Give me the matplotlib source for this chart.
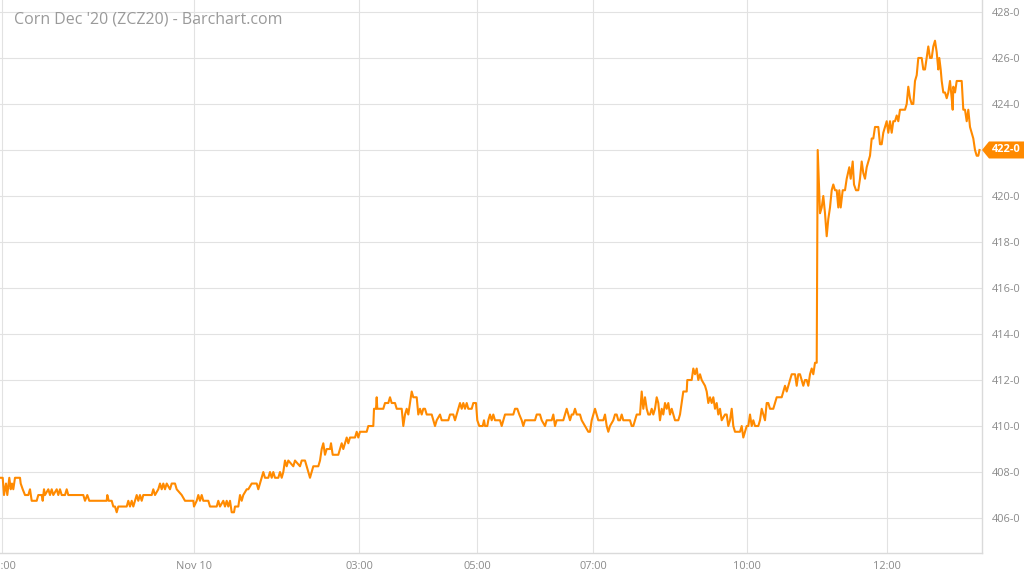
import matplotlib
matplotlib.use('Agg')
import matplotlib.pyplot as plt
from matplotlib.patches import Polygon
from matplotlib.transforms import blended_transform_factory

plt.rcParams['font.family'] = ['Open Sans', 'DejaVu Sans']

TITLE = "Corn Dec '20 (ZCZ20) - Barchart.com"
ORANGE = '#ff8a00'

# intraday bar number vs last price (cents/bu)
bars = [
    0, 2.7, 4, 6, 7.3, 9.3, 10.7, 12, 13.3, 15,
    20, 20.7, 22.7, 25, 28.3, 30, 31.7, 36.7, 38.3, 41.7,
    42.7, 44, 45, 48.3, 50, 51.7, 53.3, 56.7, 58.3, 60,
    61.7, 65, 66.7, 68.3, 83.3, 85, 87.3, 89.3, 106.7, 107.3,
    108.7, 111.7, 113.3, 115, 116.7, 118.3, 126.7, 128.3, 130, 131.7,
    133.3, 135, 136.7, 138.3, 140, 141.7, 143.3, 151.7, 153.3, 155,
    158.3, 160, 161.7, 163.3, 165, 166.7, 170, 171.7, 175, 176.7,
    181.7, 185, 193.3, 194, 196.7, 198.3, 200, 201.7, 203.3, 208.3,
    210, 216.7, 218.3, 220, 223.3, 225, 226.7, 228.3, 230, 231.7,
    234, 235, 238.3, 240, 241.7, 243.3, 246.7,
    248.3, 251.7, 256.7, 258.3, 260, 261.7, 263.3, 265, 268.3, 270,
    271.7, 273.3, 275, 278.3, 280, 281.7, 283.3, 285, 286.7, 288.3,
    293.3, 295, 300, 301.7, 305, 306.7, 308.3, 310, 311.7, 313.3,
    318.3, 320, 321.7, 323.3, 325, 326.7, 330, 331, 332.7, 338.3,
    340, 341.7, 343.3, 345, 346.7, 348.3, 350, 355, 356.7, 358.3,
    360, 366.7, 368.3, 373.3, 374, 376, 376.7, 377.3, 383.3, 385,
    388.3, 390, 391.7, 395, 396.7, 400,
    401.7, 403.3, 405, 406.7, 408.3, 410, 411.7, 413.3, 416.7, 418.3,
    420, 421.7, 423.3, 425, 426.7, 431.7, 433.3, 435, 436.7, 440,
    441.7, 448.3, 450, 453.3, 455, 456.7, 458.3, 460, 461.7, 463.3,
    465, 466.7, 468.3, 471.7, 473.3, 476, 477.3, 479.3, 482.7, 484,
    485, 487.3, 488.3, 490, 491.7, 493.3, 495, 500, 501.7, 503.3,
    505, 513.3, 515, 517.3, 519.3, 521.7, 523.3, 525, 535, 536.7,
    540, 541.7, 545, 546.7, 551.7, 553.3, 555, 556.7, 563.3, 565,
    566.7, 568.3, 570, 571.7, 573.3, 575, 576.7, 580, 581.7, 585,
    588.3, 590, 591.7, 593.3, 595, 596.7,
    598.3, 603.3, 605, 606.7, 608.3, 610, 613.3, 615, 616.7, 618.3,
    620, 621.7, 623.3, 630, 631.7, 633.3, 635, 636.7, 640, 641.7,
    643.3, 645, 646.7, 648.3, 650, 651.7, 653.3, 655, 656.7, 658.3,
    660, 661.7, 663.3, 665, 666.7, 668.3, 670, 671.7, 673.3, 675,
    678.3, 680, 681.7, 683.3, 686.7, 687.3, 691.7, 693.3, 695, 696.7,
    698.3, 700, 701.7, 705, 706.7, 708.3, 710, 711.7, 713.3, 715,
    716.7, 718.3, 720, 721.7, 725, 726.7, 728.3, 730, 731.7, 733.3,
    735, 740, 741.7, 743.3, 745, 746.7, 748.3, 750, 751.7, 753.3,
    755, 758.3, 760, 761.7, 763.3, 765, 766.7, 768.3, 770, 773.3,
    775, 776.7, 781.7, 783.3, 785, 786.7, 788.3, 790, 791.7, 795,
    796.7, 798.3, 800, 801.7, 803.3, 805, 806.7, 808.3, 810, 811.7,
    813.3, 815, 816.7,
    817.7, 819.3, 820, 821.7, 823.3, 825, 826.7, 828.3, 830, 831.7,
    833.3, 835, 836.7, 838.3, 839.3, 840.7, 842.7, 845, 846.7, 849.3,
    850.7, 852.7, 854, 856, 858.3, 860, 861.7, 863.3, 865, 866.7,
    868.3, 870, 871.7, 873.3, 875, 878.3, 880, 881.7, 883.3, 885,
    886.7, 888.3, 890, 891.7, 893.3, 895, 896.7, 898.3, 900, 901.7,
    905, 906.7, 908.3, 910, 911.7, 913.3, 915, 916.7, 918.3, 921.7,
    923.3, 925, 926.7, 928.3, 930, 931.7, 933.3, 935, 936.7, 938.3,
    939.3, 940.7, 941.7, 943.3, 945, 946.7, 948.3, 950, 951.7, 952.7,
    953.3, 955, 956.7, 958.3, 961.7, 963.3, 965, 966.7, 968.3, 970,
    971.7, 973.3, 975, 976.7, 978.3, 979.5,
]
prices = [
    407.75, 407.75, 407.0, 407.5, 407.0, 407.75, 407.25, 407.5, 407.25, 407.75,
    407.75, 407.5, 407.25, 407.0, 407.0, 407.25, 406.75, 406.75, 407.0, 407.0,
    406.75, 407.25, 407.0, 407.25, 407.0, 407.25, 407.0, 407.25, 407.0, 407.25,
    407.0, 407.0, 407.25, 407.0, 407.0, 406.75, 407.0, 406.75, 406.75, 407.0,
    406.75, 406.75, 406.5, 406.5, 406.25, 406.5, 406.5, 406.75, 406.5, 406.75,
    406.5, 406.75, 407.0, 406.75, 407.0, 406.75, 407.0, 407.0, 407.25, 407.0,
    407.25, 407.5, 407.25, 407.5, 407.25, 407.5, 407.25, 407.5, 407.5, 407.25,
    407.0, 406.75, 406.75, 406.5, 406.75, 407.0, 406.75, 407.0, 406.75, 406.75,
    406.5, 406.5, 406.75, 406.5, 406.75, 406.5, 406.75, 406.5, 406.75, 406.25,
    406.25, 406.5, 406.5, 407.0, 406.75, 407.0, 407.25,
    407.25, 407.5, 407.5, 407.25, 407.5, 407.75, 408.0, 407.75, 407.75, 408.0,
    407.75, 408.0, 407.75, 407.75, 408.0, 407.75, 408.0, 408.5, 408.25, 408.5,
    408.25, 408.5, 408.25, 408.5, 408.5, 408.25, 408.0, 407.75, 408.0, 408.25,
    408.25, 408.5, 409.0, 409.25, 408.75, 409.0, 409.0, 409.25, 408.75, 408.75,
    409.0, 409.25, 409.0, 409.25, 409.5, 409.25, 409.5, 409.5, 409.75, 409.5,
    409.75, 409.75, 410.0, 410.0, 410.75, 410.75, 411.25, 410.75, 410.75, 411.0,
    411.0, 411.25, 411.0, 411.0, 410.75, 410.75,
    410.75, 410.0, 410.5, 410.75, 410.5, 411.0, 411.5, 411.25, 411.25, 410.5,
    410.75, 410.5, 410.75, 410.75, 410.5, 410.5, 410.25, 410.0, 410.25, 410.5,
    410.25, 410.25, 410.5, 410.5, 410.25, 410.5, 410.75, 411.0, 410.75, 411.0,
    410.75, 411.0, 410.75, 410.75, 411.0, 411.0, 410.25, 410.0, 410.0, 410.25,
    410.0, 410.0, 410.25, 410.5, 410.25, 410.5, 410.25, 410.25, 410.0, 410.25,
    410.5, 410.5, 410.75, 410.75, 410.5, 410.25, 410.0, 410.25, 410.25, 410.5,
    410.5, 410.25, 410.0, 410.25, 410.25, 410.5, 410.0, 410.25, 410.25, 410.5,
    410.75, 410.5, 410.25, 410.5, 410.5, 410.75, 410.5, 410.5, 410.25, 410.0,
    409.75, 409.75, 410.25, 410.5, 410.75, 410.5,
    410.25, 410.25, 410.5, 410.0, 409.75, 410.0, 410.25, 410.5, 410.5, 410.25,
    410.25, 410.5, 410.25, 410.25, 410.0, 410.0, 410.25, 410.5, 410.5, 411.5,
    410.75, 411.25, 410.75, 410.5, 410.5, 410.75, 410.5, 410.75, 411.25, 411.0,
    410.25, 410.75, 410.5, 411.0, 410.75, 411.0, 410.5, 410.75, 410.5, 410.25,
    410.25, 410.5, 411.0, 411.5, 411.5, 412.0, 412.0, 412.5, 412.25, 412.5,
    412.0, 412.25, 412.0, 411.75, 411.5, 411.0, 411.25, 411.0, 411.25, 410.75,
    411.0, 410.5, 410.75, 410.25, 410.5, 410.5, 410.0, 410.25, 410.75, 410.0,
    409.75, 409.75, 410.0, 409.5, 409.75, 410.0, 410.0, 410.5, 410.0, 410.25,
    410.0, 410.0, 410.25, 410.75, 410.5, 410.25, 411.0, 411.0, 410.75, 410.75,
    411.0, 411.25, 411.25, 411.5, 411.75, 411.5, 411.75, 412.0, 412.25, 412.25,
    411.75, 412.25, 412.25, 412.0, 411.75, 412.0, 412.0, 411.75, 412.25, 412.5,
    412.25, 412.75, 412.75,
    422.0, 420.0, 419.25, 419.5, 420.0, 419.25, 418.25, 419.0, 419.5, 420.25,
    420.5, 420.25, 420.25, 419.5, 420.25, 419.5, 420.25, 420.25, 420.75, 421.25,
    420.75, 421.5, 420.5, 420.25, 420.25, 420.75, 421.5, 421.0, 420.75, 421.25,
    421.5, 421.75, 422.5, 422.5, 423.0, 423.0, 422.25, 422.25, 422.75, 423.0,
    423.25, 422.75, 423.25, 422.75, 423.25, 423.25, 423.5, 423.25, 423.75, 423.75,
    423.75, 424.0, 424.75, 424.25, 424.0, 424.0, 425.0, 425.25, 426.0, 426.0,
    425.5, 425.5, 426.0, 426.5, 426.0, 426.0, 426.5, 426.75, 426.25, 425.5,
    426.0, 425.5, 425.0, 424.5, 424.5, 424.25, 424.5, 425.0, 424.25, 423.75,
    424.75, 424.5, 425.0, 425.0, 425.0, 423.75, 423.75, 423.25, 423.75, 423.0,
    422.75, 422.5, 422.0, 421.75, 421.75, 422.0,
]

tick_bars = [2, 194, 359, 477, 593, 747, 887]
tick_labels = ['21:00', 'Nov 10', '03:00', '05:00', '07:00', '10:00', '12:00']
price_ticks = list(range(406, 429, 2))


def fmt_price(p):
    # corn quotes are in eighths: 422-0, 422-2, ...
    whole = int(p)
    return '{}-{}'.format(whole, int(round((p - whole) * 8)))


fig = plt.figure(figsize=(10.24, 5.76), dpi=100)
ax = fig.add_axes([0, 23 / 576, 982 / 1024, 553 / 576])

ax.plot(bars, prices, color=ORANGE, lw=1.5, zorder=3)

ax.set_xlim(0, 982)
ax.set_ylim(404.48, 428.52)
ax.yaxis.tick_right()
ax.set_yticks(price_ticks, [fmt_price(p) for p in price_ticks])
ax.set_xticks(tick_bars, tick_labels)
ax.tick_params(length=0, colors='#8a8a8a', labelsize=7.9)
ax.tick_params(axis='y', pad=7)
ax.tick_params(axis='x', pad=6)
ax.grid(color='#e2e2e2', lw=0.8)

for side in ['top', 'left']:
    ax.spines[side].set_visible(False)
for side in ['right', 'bottom']:
    ax.spines[side].set_color('#dadada')
    ax.spines[side].set_linewidth(1.0)

# last price tag on the right axis
last = prices[-1]
trans = blended_transform_factory(ax.transAxes, ax.transData)
h = 0.37
tag = Polygon([(1.0, last), (1 + 7 / 982, last + h), (1 + 42 / 982, last + h),
               (1 + 42 / 982, last - h), (1 + 7 / 982, last - h)],
              closed=True, transform=trans, fc=ORANGE, ec='none',
              clip_on=False, zorder=5)
ax.add_patch(tag)
ax.text(1 + 9.5 / 982, last, fmt_price(last), transform=trans, color='white',
        fontweight='bold', fontsize=7.9, va='center', ha='left', zorder=6)

fig.text(14 / 1024, 1 - 20 / 576, TITLE, fontsize=11.5, color='#9a9a9a',
         va='center', ha='left')

fig.savefig('out.png', dpi=100, facecolor='white')
